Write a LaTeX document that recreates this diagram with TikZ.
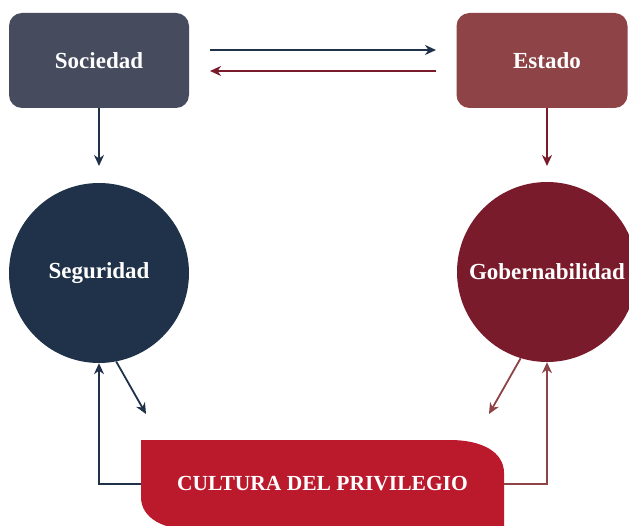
\documentclass[tikz,border=0pt]{standalone}
\usepackage{fontspec}
\setmainfont{Liberation Serif}
\usetikzlibrary{arrows.meta}
\definecolor{slate}{HTML}{464B5D}
\definecolor{navy}{HTML}{1F3249}
\definecolor{rust}{HTML}{8E4346}
\definecolor{wine}{HTML}{7A1B2C}
\definecolor{crimson}{HTML}{BA1A2C}
\begin{document}
\begin{tikzpicture}[
    x=1pt, y=-1pt,
    label text/.style={text=white, font=\fontsize{23}{27}\selectfont\bfseries},
    box/.style={label text, rounded corners=13pt, minimum height=95pt},
    disc/.style={label text, circle, minimum size=180pt, inner sep=0pt},
    link/.style={line width=1.8pt,
                 -{Stealth[length=11pt, width=10pt, inset=3.5pt]}},
]
\clip (0,0) rectangle (629,526);

% Top boxes
\node[box, fill=slate, minimum width=180pt] (sociedad) at (99,60.5) {Sociedad};
\node[box, fill=rust, minimum width=171pt] (estado) at (542,60.5) {\hspace*{10pt}Estado};

% Circles
\node[disc, fill=navy] (seguridad) at (99,273) {Seguridad};
\node[disc, fill=wine] (gobernabilidad) at (547,272) {Gobernabilidad};

% Bottom box (square top-left, square bottom-right)
\fill[crimson] (141,440) -- (450,440)
      .. controls (482,440) and (504,452) .. (504,473)
      -- (504,530) -- (195,530)
      .. controls (163,530) and (141,518) .. (141,497) -- cycle;
\node[label text, font=\fontsize{21.5}{25}\selectfont\bfseries,
      minimum width=363pt, minimum height=88pt]
      (cultura) at (322.5,484) {CULTURA DEL PRIVILEGIO};
\coordinate (segin) at (146,414);
\coordinate (gobin) at (489,414);

% Arrows between the top boxes
\draw[link, navy] (210,50) -- (436,50);
\draw[link, wine] (436,71) -- (210,71);

% Down arrows
\draw[link, navy] (sociedad.south) -- (99,166);
\draw[link, wine] (estado.south -| gobernabilidad) -- (547,166);

% Circles to the bottom box
\draw[link, navy] (seguridad.-79) -- (segin);
\draw[link, rust] (gobernabilidad.-107) -- (gobin);

% Bottom box back to the circles
\draw[link, navy] (cultura.west) -| (seguridad.south);
\draw[link, rust] (cultura.east) -| (gobernabilidad.south);

\end{tikzpicture}
\end{document}
